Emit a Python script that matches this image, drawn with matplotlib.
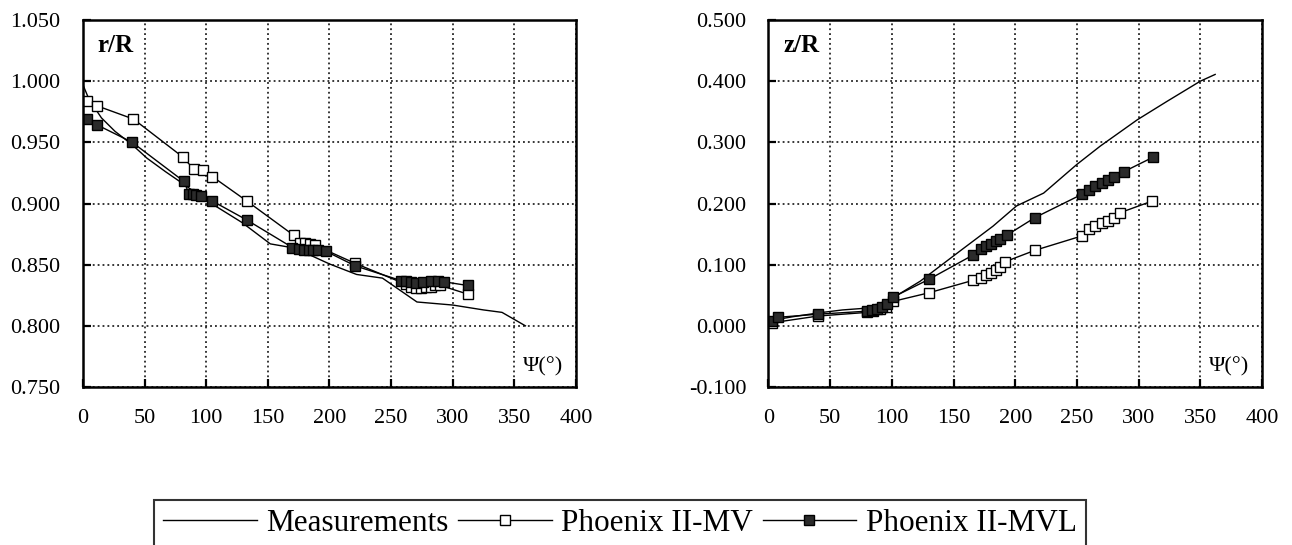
import numpy as np
import matplotlib.pyplot as plt
from matplotlib.lines import Line2D

plt.rcParams['font.family'] = ['Liberation Serif', 'DejaVu Serif']

# ---- left panel: r/R vs psi ----
r_meas_x = [0, 5, 15, 26, 40, 52, 67, 80, 101, 129, 152, 172, 200, 222, 243, 271, 300, 325, 340, 359]
r_meas_y = [0.997, 0.985, 0.970, 0.959, 0.948, 0.937, 0.926, 0.917, 0.902, 0.8845, 0.867, 0.8635,
            0.8506, 0.842, 0.839, 0.8195, 0.817, 0.813, 0.811, 0.800]

r_mv_x = [3, 11, 41, 81, 90, 97, 105, 133, 171, 176, 180, 184, 188, 221,
          262, 266, 270, 274, 278, 282, 286, 290, 312]
r_mv_y = [0.984, 0.980, 0.969, 0.938, 0.928, 0.927, 0.922, 0.902, 0.874, 0.868, 0.868, 0.867, 0.866, 0.851,
          0.834, 0.832, 0.831, 0.831, 0.832, 0.832, 0.833, 0.833, 0.826]

r_mvl_x = [3, 11, 40, 82, 86, 89, 92, 96, 105, 133, 170, 175, 179, 183, 187, 191, 197, 221,
           258, 262, 266, 270, 276, 282, 288, 293, 312]
r_mvl_y = [0.969, 0.9645, 0.950, 0.918, 0.908, 0.908, 0.907, 0.906, 0.902, 0.8865, 0.864, 0.863, 0.862,
           0.862, 0.862, 0.862, 0.861, 0.849, 0.837, 0.837, 0.836, 0.835, 0.836, 0.837, 0.837, 0.836, 0.833]

# ---- right panel: z/R vs psi ----
z_meas_x = [0, 20, 40, 60, 80, 92, 101, 123, 155, 182, 201, 223, 250, 269, 299, 323, 350, 362]
z_meas_y = [0.008, 0.015, 0.021, 0.026, 0.029, 0.034, 0.046, 0.073, 0.122, 0.163, 0.196, 0.217,
            0.264, 0.294, 0.337, 0.367, 0.400, 0.411]

z_mv_x = [3, 40, 80, 85, 90, 95, 101, 130, 166, 172, 176, 180, 184, 188, 192, 216,
          254, 260, 265, 270, 275, 280, 285, 311]
z_mv_y = [0.005, 0.016, 0.022, 0.024, 0.027, 0.031, 0.040, 0.054, 0.0745, 0.079, 0.083, 0.087, 0.091,
          0.096, 0.105, 0.1235, 0.147, 0.158, 0.163, 0.168, 0.172, 0.177, 0.185, 0.204]

z_mvl_x = [3, 8, 40, 80, 84, 88, 92, 96, 101, 130, 166, 172, 176, 180, 184, 188, 193, 216,
           254, 260, 265, 270, 275, 280, 288, 312]
z_mvl_y = [0.008, 0.014, 0.019, 0.024, 0.026, 0.028, 0.031, 0.035, 0.047, 0.076, 0.116, 0.126, 0.130,
           0.134, 0.138, 0.142, 0.148, 0.177, 0.215, 0.222, 0.228, 0.233, 0.238, 0.243, 0.252, 0.276]

x_ticks = [0, 50, 100, 150, 200, 250, 300, 350, 400]
r_ticks = [0.75, 0.80, 0.85, 0.90, 0.95, 1.00, 1.05]
z_ticks = [-0.1, 0.0, 0.1, 0.2, 0.3, 0.4, 0.5]

fig = plt.figure(figsize=(12.92, 5.45), dpi=100)
ax1 = fig.add_axes([0.0642, 0.2899, 0.3816, 0.6734])
ax2 = fig.add_axes([0.5948, 0.2899, 0.3820, 0.6734])

mv_style = dict(color='black', lw=1.0, marker='s', ms=7, mfc='white', mec='black', mew=1.0)
mvl_style = dict(color='black', lw=1.0, marker='s', ms=7, mfc='#2b2b2b', mec='black', mew=1.0)


def style_axes(ax, yticks, ylabel):
    ax.set_xlim(0, 400)
    ax.set_ylim(yticks[0], yticks[-1])
    ax.set_xticks(x_ticks)
    ax.set_yticks(yticks)
    ax.set_yticklabels(['%.3f' % v for v in yticks])
    ax.grid(True, color='black', linestyle=(0, (1.2, 2.0)), linewidth=1.1)
    ax.tick_params(axis='both', direction='in', length=6, width=1.6, labelsize=16,
                   top=False, right=False)
    ax.tick_params(axis='y', pad=16)
    ax.tick_params(axis='x', pad=16)
    for s in ax.spines.values():
        s.set_linewidth(1.8)
    ax.text(0.03, 0.93, ylabel, transform=ax.transAxes, fontsize=18, fontweight='bold',
            ha='left', va='center')
    ax.text(0.975, 0.055, 'Ψ(°)', transform=ax.transAxes, fontsize=16, ha='right', va='center')


ax1.plot(r_meas_x, r_meas_y, color='black', lw=1.0)
ax1.plot(r_mv_x, r_mv_y, **mv_style)
ax1.plot(r_mvl_x, r_mvl_y, **mvl_style)
style_axes(ax1, r_ticks, 'r/R')

ax2.plot(z_meas_x, z_meas_y, color='black', lw=1.0)
ax2.plot(z_mv_x, z_mv_y, **mv_style)
ax2.plot(z_mvl_x, z_mvl_y, **mvl_style)
style_axes(ax2, z_ticks, 'z/R')

handles = [Line2D([], [], color='black', lw=1.0),
           Line2D([], [], **mv_style),
           Line2D([], [], **mvl_style)]
labels = ['Measurements', 'Phoenix II-MV', 'Phoenix II-MVL']
leg = fig.legend(handles, labels, loc='upper center', bbox_to_anchor=(620 / 1292, 1 - 500 / 545),
                 ncol=3, fontsize=22.5, frameon=True, fancybox=False, numpoints=1,
                 handlelength=3.0, handletextpad=0.3, columnspacing=0.3, borderpad=0.3,
                 borderaxespad=0)
leg.get_frame().set_edgecolor('black')
leg.get_frame().set_linewidth(1.5)

fig.savefig('out.png', dpi=100)
